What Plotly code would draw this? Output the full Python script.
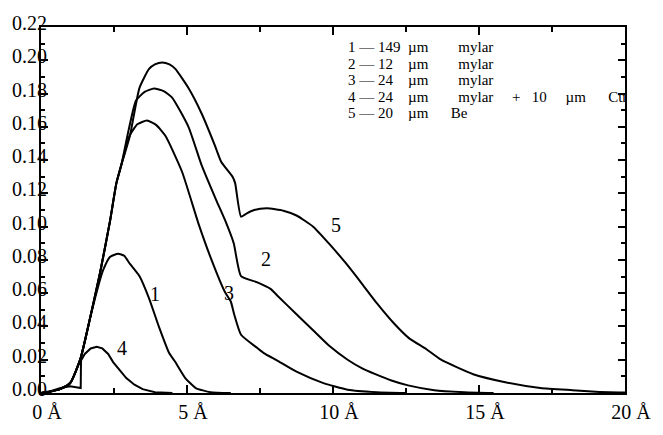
import plotly.graph_objects as go

# wavelength (Angstrom) and spectral values
x1 = [0, 0.3, 0.67, 1.0, 1.35, 1.68, 1.85, 2.02, 2.13, 2.36, 2.64, 2.85, 3.03, 3.37, 3.70, 4.04, 4.38, 4.6, 4.94, 5.3, 5.8, 6.5]
y1 = [0, 0.0008, 0.0025, 0.006, 0.0205, 0.045, 0.0569, 0.068, 0.074, 0.0818, 0.0837, 0.0825, 0.078, 0.0703, 0.0569, 0.0397, 0.0243, 0.0186, 0.009, 0.003, 0.0005, 0]

x2 = [0, 0.3, 0.67, 1.0, 1.35, 1.68, 2.02, 2.36, 2.58, 2.75, 3.0, 3.25, 3.55, 3.87, 4.2, 4.49, 5.05, 5.5, 6.0, 6.3, 6.6, 6.85, 7.41, 7.86, 8.08, 8.75, 9.3, 9.88, 10.5, 11.0, 11.45, 12.0, 12.57, 13.47, 14.5, 15.5]
y2 = [0, 0.0008, 0.0025, 0.006, 0.0205, 0.045, 0.072, 0.103, 0.126, 0.137, 0.158, 0.1757, 0.181, 0.183, 0.1815, 0.1776, 0.160, 0.137, 0.116, 0.104, 0.090, 0.0703, 0.0665, 0.0626, 0.0588, 0.0473, 0.038, 0.0282, 0.020, 0.0148, 0.0113, 0.0075, 0.0046, 0.0017, 0.0005, 0]

x3 = [0, 0.3, 0.67, 1.0, 1.35, 1.68, 2.02, 2.36, 2.58, 2.75, 3.03, 3.3, 3.63, 3.95, 4.26, 4.83, 5.39, 5.84, 6.29, 6.5, 6.62, 6.85, 7.41, 7.63, 8.08, 8.75, 9.65, 10.5, 11.5, 12.5]
y3 = [0, 0.0008, 0.0025, 0.006, 0.0205, 0.045, 0.072, 0.103, 0.126, 0.137, 0.1546, 0.1615, 0.1638, 0.161, 0.1546, 0.133, 0.102, 0.080, 0.061, 0.055, 0.047, 0.035, 0.027, 0.024, 0.0196, 0.0128, 0.0061, 0.002, 0.0005, 0]

x4 = [0, 0.3, 0.67, 1.0, 1.2, 1.36, 1.37, 1.5, 1.7, 1.91, 2.1, 2.3, 2.47, 2.7, 2.92, 3.2, 3.48, 3.9, 4.5]
y4 = [0, 0.001, 0.003, 0.004, 0.0035, 0.003, 0.0195, 0.0235, 0.0268, 0.0278, 0.0268, 0.0235, 0.0186, 0.0135, 0.009, 0.005, 0.0023, 0.0005, 0]

x5 = [0, 0.3, 0.67, 1.0, 1.35, 1.68, 2.02, 2.36, 2.58, 2.75, 3.05, 3.37, 3.70, 3.9, 4.15, 4.4, 4.60, 5.05, 5.5, 5.95, 6.17, 6.57, 6.65, 6.85, 7.05, 7.3, 7.74, 8.3, 8.75, 9.32, 9.88, 10.44, 11.0, 11.5, 12.1, 12.6, 13.2, 13.7, 14.8, 15.9, 17.1, 18.2, 19.0, 20.0]
y5 = [0, 0.0008, 0.0025, 0.006, 0.0205, 0.045, 0.072, 0.103, 0.126, 0.137, 0.155, 0.1833, 0.1948, 0.1975, 0.1987, 0.1975, 0.1948, 0.1833, 0.168, 0.149, 0.139, 0.1297, 0.126, 0.106, 0.108, 0.110, 0.111, 0.1096, 0.1067, 0.100, 0.0895, 0.078, 0.0655, 0.054, 0.0416, 0.033, 0.0263, 0.020, 0.0113, 0.0065, 0.003, 0.0017, 0.0008, 0.0003]

x_tickvals = [0, 5, 10, 15, 20]
x_ticktext = ["0 Å", "5 Å", "10 Å", "15 Å", "20 Å"]

NB = "\u00a0"
legend_lines = [
    "1 — 149" + NB * 2 + "µm" + NB * 8 + "mylar",
    "2 — 12" + NB * 4 + "µm" + NB * 8 + "mylar",
    "3 — 24" + NB * 4 + "µm" + NB * 8 + "mylar",
    "4 — 24" + NB * 4 + "µm" + NB * 8 + "mylar" + NB * 5 + "+" + NB * 3 + "10" + NB * 5 + "µm" + NB * 6 + "Cu",
    "5 — 20" + NB * 4 + "µm" + NB * 6 + "Be",
]
legend_y_px = [36.5, 53.8, 71.1, 88.4, 105.7]

curve_labels = ["1", "2", "3", "4", "5"]
label_x = [3.91, 7.71, 6.44, 2.78, 10.11]
label_y = [0.0596, 0.0808, 0.0602, 0.0269, 0.1007]

FONT = "Liberation Serif"
L, R, T, B = 40, 26, 15, 36
W, H = 663, 435
PW, PH = W - L - R, H - T - B

fig = go.Figure()
for i, (xs, ys) in enumerate([(x1, y1), (x2, y2), (x3, y3), (x4, y4), (x5, y5)]):
    shape = "linear" if i == 3 else "spline"
    fig.add_trace(go.Scatter(x=xs, y=ys, mode="lines",
                             line=dict(color="black", width=2, shape=shape, smoothing=0.5),
                             showlegend=False, hoverinfo="skip"))

annotations = []
for t, ypx in zip(legend_lines, legend_y_px):
    annotations.append(dict(text=t, x=(353 - L) / PW, y=(H - B - ypx) / PH,
                            xref="paper", yref="paper",
                            xanchor="left", yanchor="middle", showarrow=False,
                            borderpad=0,
                            font=dict(family=FONT, size=15, color="black")))
for t, lx, ly in zip(curve_labels, label_x, label_y):
    annotations.append(dict(text=t, x=lx, y=ly, xref="x", yref="y",
                            xanchor="center", yanchor="middle", showarrow=False,
                            font=dict(family=FONT, size=20, color="black")))

fig.update_layout(
    width=W, height=H,
    margin=dict(l=L, r=R, t=T, b=B),
    paper_bgcolor="white", plot_bgcolor="white",
    font=dict(family=FONT, color="black"),
    annotations=annotations,
    xaxis=dict(range=[0, 20], tickvals=x_tickvals, ticktext=x_ticktext,
               ticks="inside", ticklen=8, tickwidth=1.5, tickcolor="black",
               minor=dict(dtick=2.5, tick0=0, ticks="inside", ticklen=5, tickcolor="black"),
               showline=True, linewidth=2, linecolor="black", mirror="ticks",
               showgrid=False, zeroline=False, ticklabelshift=6,
               ticklabeloverflow="allow",
               tickfont=dict(family=FONT, size=20, color="black")),
    yaxis=dict(range=[0, 0.22], dtick=0.02, tick0=0, tickformat=".2f",
               ticks="inside", ticklen=7, tickwidth=1.5, tickcolor="black",
               minor=dict(dtick=0.01, tick0=0, ticks="inside", ticklen=4, tickcolor="black"),
               showline=True, linewidth=2, linecolor="black", mirror="ticks",
               showgrid=False, zeroline=False, ticklabelstandoff=-12, ticklabelshift=-4,
               ticklabeloverflow="allow",
               tickfont=dict(family=FONT, size=20, color="black")),
)

fig.write_html("out.html")
